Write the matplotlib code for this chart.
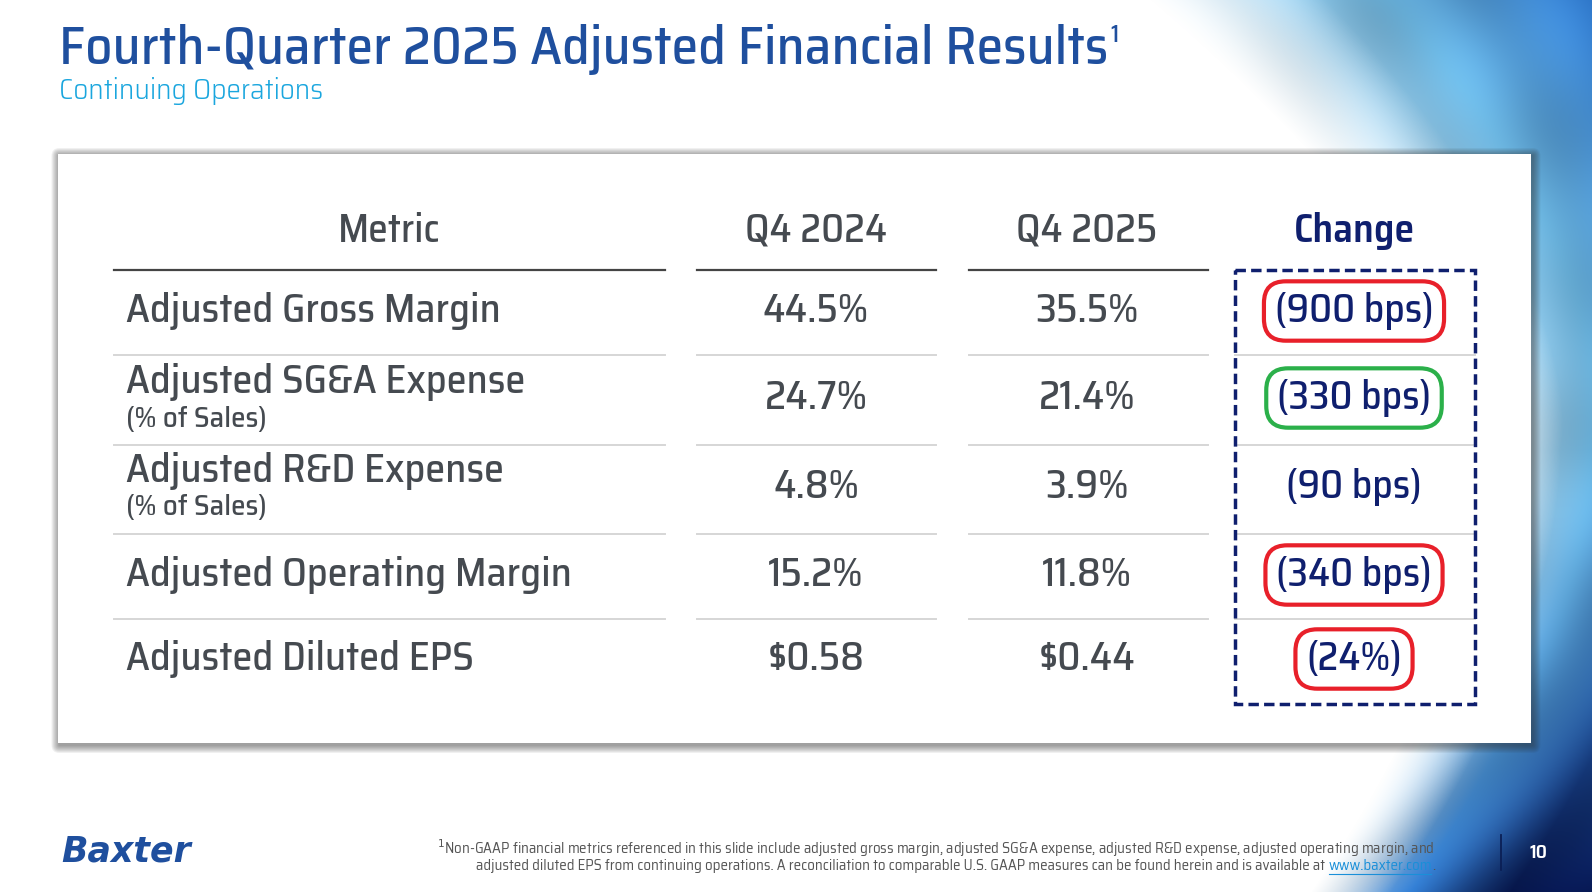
import numpy as np
import matplotlib
matplotlib.use("Agg")
import matplotlib.pyplot as plt
from matplotlib.patches import Rectangle, FancyBboxPatch

# donnees du tableau
metrics = ["Adjusted Gross Margin", "Adjusted SG&A Expense", "Adjusted R&D Expense",
           "Adjusted Operating Margin", "Adjusted Diluted EPS"]
sub_labels = ["", "(% of Sales)", "(% of Sales)", "", ""]
q4_2024 = ["44.5%", "24.7%", "4.8%", "15.2%", "\\$0.58"]
q4_2025 = ["35.5%", "21.4%", "3.9%", "11.8%", "\\$0.44"]
change = ["(900 bps)", "(330 bps)", "(90 bps)", "(340 bps)", "(24%)"]
highlight = ["#e8202a", "#2bb04a", None, "#e8202a", "#e8202a"]
headers = ["Metric", "Q4 2024", "Q4 2025", "Change"]

TITLE_F = ["Saira SemiCondensed", "Titillium Web", "DejaVu Sans"]
BODY_F = ["Saira SemiCondensed", "Saira Condensed", "DejaVu Sans"]
W, H = 1592, 892
GRAY = "#454a50"
NAVY = "#0f1f6e"

fig = plt.figure(figsize=(W / 100, H / 100), dpi=100)
ax = fig.add_axes([0, 0, 1, 1])
ax.set_xlim(0, W)
ax.set_ylim(H, 0)
ax.axis("off")

# fond: degrade bleu sur le bord droit (decor)
yy, xx = np.mgrid[0:H, 0:W].astype(float)
up = np.clip((450 - yy) / 450, 0, 1)
down = np.clip((yy - 450) / 442, 0, 1)
x_edge = 1480 - 330 * up ** 1.6 - 170 * down ** 1.8
t = np.clip((xx - x_edge) / (200 + 240 * up), 0, 1)
r = np.hypot(xx - 700, (yy - 300) * 1.3)
bands = np.sin(r / 18) * (0.5 + 0.5 * down) + np.sin((xx + 1.6 * yy) / 60) * 0.6 * up \
    + np.sin(yy / 25) * 0.5 * (1 - up - down)
light = np.array([0.86, 0.95, 1.0])
cyan = np.array([0.45, 0.76, 0.94])
mid = np.array([0.20, 0.50, 0.84])
dark = np.array([0.03, 0.10, 0.34])
t2 = t[..., None]
d2 = (down ** 1.3)[..., None]
top_col = np.where(t2 < 0.55, light + (cyan - light) * (t2 / 0.55), cyan + (mid - cyan) * ((t2 - 0.55) / 0.45))
bot_col = np.where(t2 < 0.5, light + (mid - light) * (t2 / 0.5), mid + (dark - mid) * ((t2 - 0.5) / 0.5))
col = top_col * (1 - d2) + bot_col * d2
col = col * (0.92 + 0.08 * bands[..., None])
alpha = np.clip(t * 2.5, 0, 1)
img = np.dstack([np.clip(col, 0, 1), alpha])
ax.imshow(img, extent=(0, W, H, 0), zorder=0, interpolation="bilinear")

# titre
title = ax.text(59, 64, "Fourth-Quarter 2025 Adjusted Financial Results", fontsize=38.5,
                color="#1f4f9e", family=TITLE_F, fontweight=500, va="baseline", ha="left", zorder=5)
fig.canvas.draw()
rend = fig.canvas.get_renderer()
bb = title.get_window_extent(rend)
ax.text(bb.x1 + 2, 42, "1", fontsize=18, color="#1f4f9e", family=TITLE_F, fontweight=500,
        va="baseline", ha="left", zorder=5)
ax.text(59, 91, "Continuing Operations", fontsize=21, color="#1aa6de", family=TITLE_F,
        fontweight=300, va="center", ha="left", zorder=5)

# carte blanche avec ombre douce
for k in range(8, 0, -1):
    ax.add_patch(FancyBboxPatch((58 + 1.5, 154 + 2), 1473, 589, boxstyle=f"round,pad={k},rounding_size={k}",
                                facecolor="#303030", edgecolor="none", alpha=0.07, zorder=1))
ax.add_patch(Rectangle((58, 154), 1473, 589, facecolor="white", edgecolor="none", zorder=2))

col_x = [389, 816, 1087, 1354]
seg = [(114, 665), (697, 936), (969, 1208), (1235, 1475)]
header_y = 231
row_y = [311, 398, 487, 575, 659]
line_y = [355, 445, 534, 619]

for i, h in enumerate(headers):
    is_chg = h == "Change"
    ax.text(col_x[i], header_y, h, fontsize=28.5, color=NAVY if is_chg else GRAY, family=BODY_F,
            fontweight=600 if is_chg else 500, ha="center", va="center", zorder=5)

for a, b in seg[:3]:
    ax.plot([a, b], [270, 270], color="#444444", lw=1.6, zorder=4)
for y in line_y:
    for a, b in seg:
        ax.plot([a, b], [y, y], color="#d6d6d6", lw=1.4, zorder=3)

for i in range(len(metrics)):
    y = row_y[i]
    if sub_labels[i]:
        ax.text(126, y - 16, metrics[i], fontsize=29, color=GRAY, family=BODY_F, fontweight=500,
                ha="left", va="center", zorder=5)
        ax.text(126, y + 21, sub_labels[i], fontsize=21, color=GRAY, family=BODY_F, fontweight=500,
                ha="left", va="center", zorder=5)
    else:
        ax.text(126, y, metrics[i], fontsize=29, color=GRAY, family=BODY_F, fontweight=500,
                ha="left", va="center", zorder=5)
    ax.text(col_x[1], y, q4_2024[i], fontsize=29, color=GRAY, family=BODY_F, fontweight=500,
            ha="center", va="center", zorder=5)
    ax.text(col_x[2], y, q4_2025[i], fontsize=29, color=GRAY, family=BODY_F, fontweight=500,
            ha="center", va="center", zorder=5)
    bbox = None
    if highlight[i]:
        bbox = dict(boxstyle="round,pad=0.27,rounding_size=0.55", facecolor="none",
                    edgecolor=highlight[i], linewidth=3)
    ax.text(col_x[3], y, change[i], fontsize=28.5, color=NAVY, family=BODY_F, fontweight=550,
            ha="center", va="center", bbox=bbox, zorder=5)

# cadre pointille autour de la colonne Change
ax.add_patch(Rectangle((1235, 270), 240, 434, facecolor="none", edgecolor=NAVY,
                       lw=2.5, linestyle=(0, (3, 1.5)), zorder=4))

# pied de page
ax.text(61, 851, "Baxter", fontsize=25, color="#1f4f9e", family="DejaVu Sans",
        fontweight="bold", fontstyle="italic", va="center", ha="left", zorder=5)
FS = 10.75
ax.text(1435, 848, "$^1$Non-GAAP financial metrics referenced in this slide include adjusted gross margin, "
        "adjusted SG&A expense, adjusted R&D expense, adjusted operating margin, and",
        fontsize=FS, color="#555555", family=TITLE_F, ha="right", va="center", zorder=5)
dot = ax.text(1435, 866, ".", fontsize=FS, color="#555555", family=TITLE_F,
              ha="right", va="center", zorder=5)
fig.canvas.draw()
db = dot.get_window_extent(rend)
url = ax.text(db.x0, 866, "www.baxter.com", fontsize=FS, color="#1a8fd8", family=TITLE_F,
              ha="right", va="center", zorder=5)
fig.canvas.draw()
ub = url.get_window_extent(rend)
ax.text(ub.x0 - 3, 866, "adjusted diluted EPS from continuing operations. A reconciliation to comparable "
        "U.S. GAAP measures can be found herein and is available at",
        fontsize=FS, color="#555555", family=TITLE_F, ha="right", va="center", zorder=5)
ax.plot([ub.x0 + 1, ub.x1 - 1], [874, 874], color="#1a8fd8", lw=0.8, zorder=5)
ax.plot([1501, 1501], [835, 870], color="#0b1f55", lw=1.3, zorder=5)
ax.text(1538, 853, "10", fontsize=14, color="white", family=TITLE_F, fontweight=600,
        ha="center", va="center", zorder=5)

fig.savefig("out.png", dpi=100)
